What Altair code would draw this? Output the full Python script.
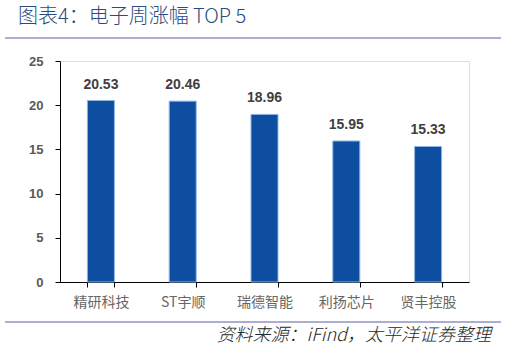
import altair as alt
import pandas as pd

categories = ["精研科技", "ST宇顺", "瑞德智能", "利扬芯片", "贤丰控股"]
values = [20.53, 20.46, 18.96, 15.95, 15.33]
y_ticks = [0, 5, 10, 15, 20, 25]

df = pd.DataFrame({"name": categories, "value": values, "label": [f"{v:.2f}" for v in values]})

W, H = 409, 221

x_enc = alt.X("name:N", sort=categories, title=None,
              scale=alt.Scale(paddingInner=0.67, paddingOuter=0.335),
              axis=alt.Axis(labelAngle=0, domainColor="#000000", tickColor="#000000",
                            tickBand="extent", tickSize=5, labelPadding=8,
                            labelColor="#666666", labelFontSize=14, labelFontWeight="normal",
                            labelFont="Noto Sans CJK SC"))
y_enc = alt.Y("value:Q", title=None,
              scale=alt.Scale(domain=[0, 25], nice=False),
              axis=alt.Axis(values=y_ticks, grid=False, domainColor="#000000", tickColor="#000000",
                            tickSize=5, labelPadding=12, labelColor="#595959", labelFontSize=13,
                            labelFontWeight="bold", labelFont="Liberation Sans"))

base = alt.Chart(df)
bars = base.mark_bar(color="#0D4EA0", stroke="#8FB3E0", strokeWidth=1).encode(x=x_enc, y=y_enc)
labels = base.mark_text(dy=-16, fontSize=14, fontWeight="bold", color="#404040",
                        font="Liberation Sans").encode(
    x=alt.X("name:N", sort=categories), y="value:Q", text="label:N")

title = alt.Chart(pd.DataFrame({"t": ["图表4：电子周涨幅 TOP 5"]})).mark_text(
    align="left", baseline="middle", fontSize=20, fontWeight=300, color="#2B4A7E",
    font="Noto Sans CJK SC"
).encode(x=alt.value(-42), y=alt.value(-44), text="t:N")

line_top = alt.Chart(pd.DataFrame({"a": [0]})).mark_rule(color="#8F92C4", strokeWidth=1.5).encode(
    x=alt.value(-55), x2=alt.value(441), y=alt.value(-23))
line_bot = alt.Chart(pd.DataFrame({"a": [0]})).mark_rule(color="#8F92C4", strokeWidth=1.5).encode(
    x=alt.value(-55), x2=alt.value(441), y=alt.value(40 + H))

source = alt.Chart(pd.DataFrame({"t": ["资料来源：iFind，太平洋证券整理"]})).mark_text(
    align="right", baseline="middle", fontSize=18, fontStyle="italic", fontWeight=300,
    color="#262626", font="Noto Sans CJK SC"
).encode(x=alt.value(431), y=alt.value(H + 54), text="t:N")

chart = alt.layer(bars, labels, title, line_top, line_bot, source).properties(
    width=W, height=H,
    autosize=alt.AutoSizeParams(type="none"),
    padding={"left": 60, "top": 61, "right": 38, "bottom": 67},
).configure_view(stroke=None).configure(background="#ffffff")

chart.save("out.html", embed_options={"renderer": "svg", "actions": False})
